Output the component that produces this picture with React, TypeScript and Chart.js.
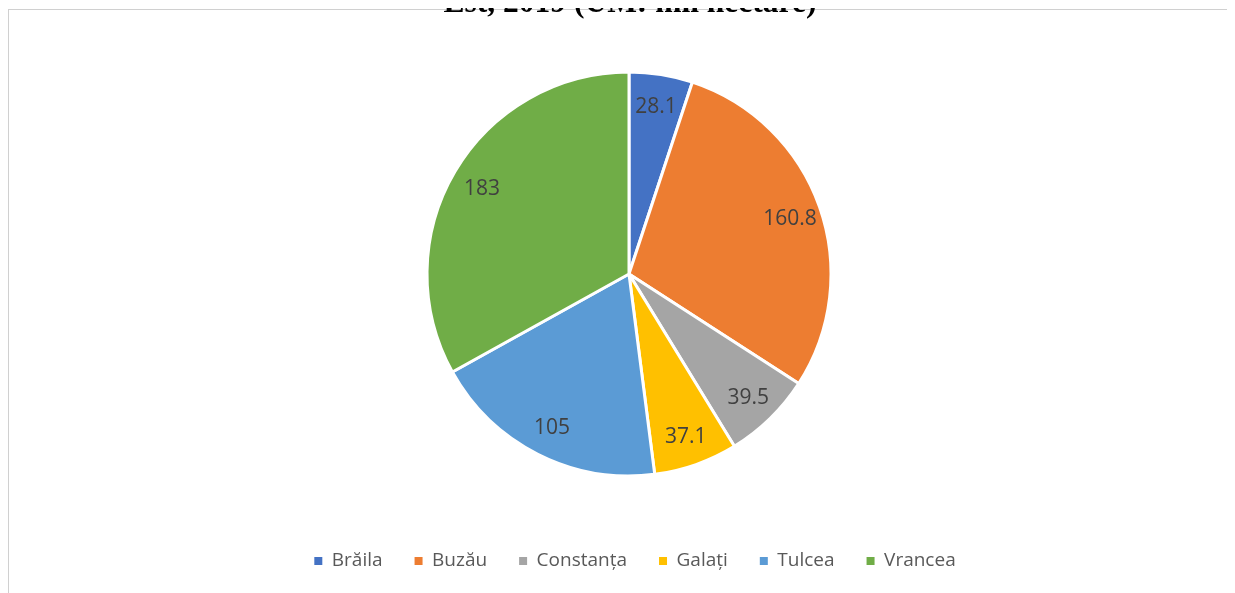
import React, { useEffect, useRef } from "react";
import { Chart, registerables } from "chart.js";

Chart.register(...registerables);

const titleLine = "Est, 2019 (UM: mii hectare)";
const categories = ["Brăila", "Buzău", "Constanța", "Galați", "Tulcea", "Vrancea"];
const values = [28.1, 160.8, 39.5, 37.1, 105, 183];
const colors = ["#4472C4", "#ED7D31", "#A5A5A5", "#FFC000", "#5B9BD5", "#70AD47"];

const FONT = "'Open Sans', 'Noto Sans', sans-serif";

const valueLabels = {
  id: "valueLabels",
  afterDatasetsDraw(chart: any) {
    const ctx = chart.ctx;
    const meta = chart.getDatasetMeta(0);
    ctx.save();
    ctx.font = `21px ${FONT}`;
    ctx.fillStyle = "#404040";
    ctx.textAlign = "center";
    ctx.textBaseline = "middle";
    meta.data.forEach((el: any, i: number) => {
      const { x, y, startAngle, endAngle, outerRadius } = el.getProps(
        ["x", "y", "startAngle", "endAngle", "outerRadius"],
        true
      );
      const mid = (startAngle + endAngle) / 2;
      const r = outerRadius * 0.845;
      ctx.fillText(String(values[i]), x + Math.cos(mid) * r, y + Math.sin(mid) * r + 2);
    });
    ctx.restore();
  },
};

const shiftLegend = {
  id: "shiftLegend",
  afterLayout(chart: any) {
    if (chart.legend) {
      chart.legend.left += 6;
      chart.legend.right += 6;
    }
  },
};

export default function App() {
  const ref = useRef<HTMLCanvasElement>(null);
  useEffect(() => {
    document.documentElement.style.overflow = "hidden";
    const chart = new Chart(ref.current as HTMLCanvasElement, {
      type: "pie",
      data: {
        labels: categories,
        datasets: [
          {
            data: values,
            backgroundColor: colors,
            borderColor: "#ffffff",
            borderWidth: 3,
            radius: 202,
          } as any,
        ],
      },
      options: {
        responsive: false,
        animation: false,
        layout: { padding: { left: 15, right: 0, top: 18.5, bottom: 12.5 } },
        plugins: {
          tooltip: { enabled: false },
          legend: {
            position: "bottom",
            labels: {
              boxWidth: 8,
              boxHeight: 8,
              padding: 32,
              color: "#595959",
              font: { family: FONT, size: 19 },
              generateLabels: (c: any) =>
                Chart.overrides.pie.plugins.legend.labels
                  .generateLabels(c)
                  .map((it: any) => ({ ...it, lineWidth: 0, strokeStyle: "rgba(0,0,0,0)" })),
            },
          },
        },
      },
      plugins: [valueLabels, shiftLegend],
    });
    return () => chart.destroy();
  }, []);

  return (
    <div style={{ position: "relative", height: 585 }}>
      <div
        style={{
          position: "absolute",
          top: 1,
          left: 0,
          width: 1240,
          height: 584,
          borderTop: "1px solid #d0d0d0",
          borderLeft: "1px solid #d0d0d0",
          background: "#fff",
        }}
      >
        <canvas ref={ref} width={1225} height={583} style={{ display: "block", width: 1225, height: 583 }} />
      </div>
      <div
        style={{
          position: "absolute",
          zIndex: 2,
          top: -22,
          left: 122,
          width: 1000,
          textAlign: "center",
          fontFamily: "'Liberation Serif', 'Times New Roman', serif",
          fontWeight: "bold",
          fontSize: 31.5,
          lineHeight: "31px",
          color: "#000",
          whiteSpace: "nowrap",
        }}
      >
        {titleLine}
      </div>
    </div>
  );
}
